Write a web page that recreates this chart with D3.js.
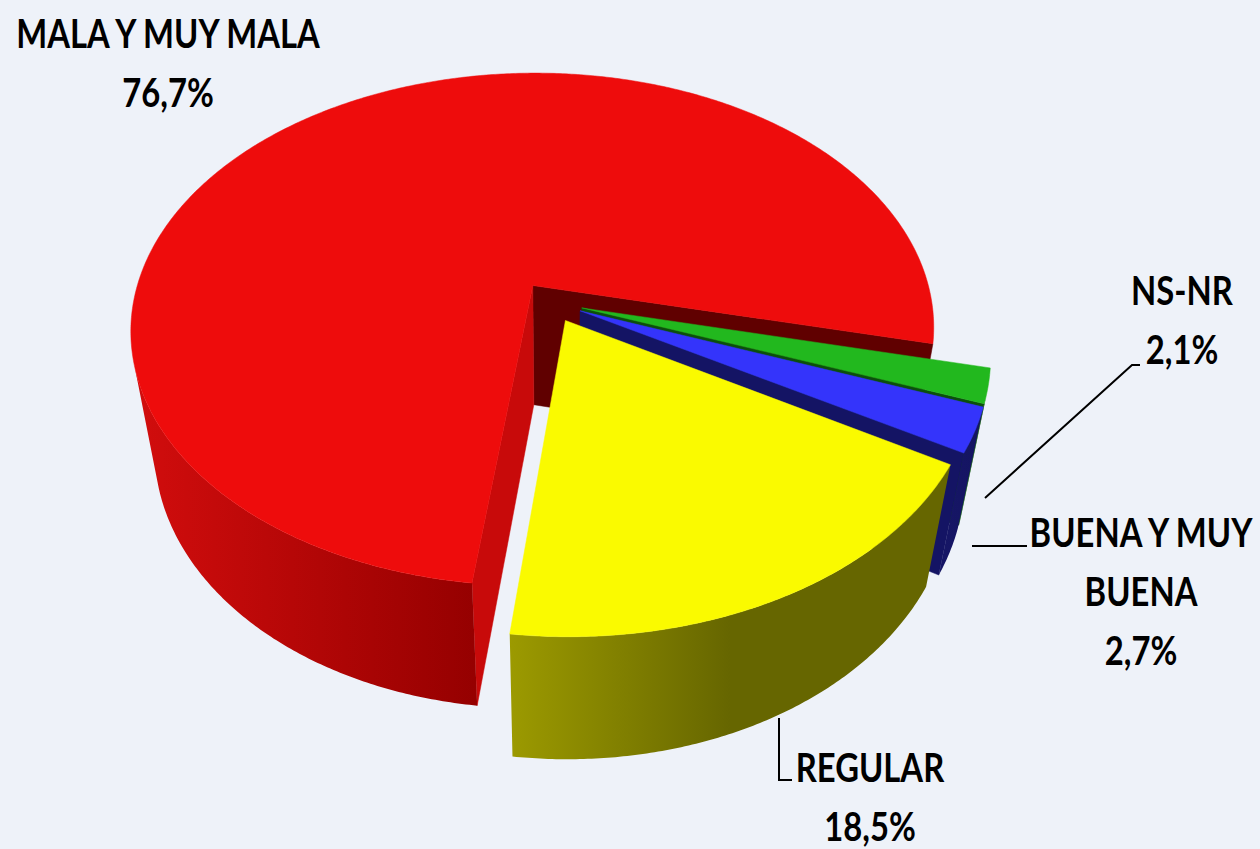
<!DOCTYPE html>
<html>
<head>
<meta charset="utf-8">
<script src="https://cdn.jsdelivr.net/npm/d3@7"></script>
<style>
  html, body { margin: 0; padding: 0; background: #eef2f9; }
  svg { display: block; }
  .lbl { font-family: Lato, "Open Sans", sans-serif; font-weight: 700; fill: #000; }
</style>
</head>
<body>
<div id="chart"></div>
<script>
// Datos (porcentajes)
const categories = ['NS-NR', 'BUENA Y MUY BUENA', 'REGULAR', 'MALA Y MUY MALA'];
const values = [2.1, 2.7, 18.5, 76.7];
// líneas de texto de cada etiqueta
const labelLines = [['NS-NR'], ['BUENA Y MUY', 'BUENA'], ['REGULAR'], ['MALA Y MUY MALA']];

const width = 1260, height = 849;

// Estilos por porción
const sliceStyle = [
  { top: '#22b81e', wall: ['#0f660f', '#0b500b'], cutStart: '#0c4f0c', cutEnd: '#0c4f0c' },
  { top: '#3434fb', wall: ['#161666', '#141462'], cutStart: '#141464', cutEnd: '#141464' },
  { top: '#fafa00', wall: ['#9c9a00', '#666600'], cutStart: '#8a8800', cutEnd: '#707000' },
  { top: '#ee0c0c', wall: ['#d20d0d', '#950000'], cutStart: '#c80a0a', cutEnd: '#600000' }
];

// Posición de las etiquetas (centro, línea base de la primera línea)
const labelPos = [
  { x: 1182, y: 305 },
  { x: 1141, y: 547 },
  { x: 870, y: 782 },
  { x: 168, y: 48 }
];
const leaderLines = [
  [[1140, 365], [1132, 365], [985, 498]],
  [[1027, 546], [972, 546]],
  [[792, 780], [779, 780], [779, 718]],
  null
];

// Vista 3D (perspectiva)
const view = { cx: 551, cy: 302, F: 1784, D: 4.46, tilt: 39.5 * Math.PI / 180, depth: 0.41, explode: 0.08 };
const sinA = Math.sin(view.tilt), cosA = Math.cos(view.tilt);
const camera = [0, view.D * sinA, view.D * cosA];

function project(x, y, z) {
  const w = view.D - (y * sinA + z * cosA);
  return [view.cx + view.F * x / w, view.cy - view.F * (y * cosA - z * sinA) / w];
}
function distance(x, y, z) {
  return view.D - (y * sinA + z * cosA);
}

const svg = d3.select('#chart').append('svg')
  .attr('width', width)
  .attr('height', height)
  .attr('viewBox', `0 0 ${width} ${height}`);

const defs = svg.append('defs');
svg.append('rect').attr('width', width).attr('height', height).attr('fill', '#eef2f9');

// d3.pie: ángulo 0 arriba, sentido horario. theta = ángulo en el plano (0 = derecha, hacia el frente)
const pie = d3.pie().sort(null).value(d => d)
  .startAngle(103 * Math.PI / 180)
  .endAngle(103 * Math.PI / 180 + 2 * Math.PI);
const arcs = pie(values);

const line = d3.line();
const faces = [];   // caras laterales (se ordenan por profundidad)
const tops = [];
const step = Math.PI / 360;

arcs.forEach((a, i) => {
  const t0 = a.startAngle - Math.PI / 2;
  const t1 = a.endAngle - Math.PI / 2;
  const mid = (t0 + t1) / 2;
  const ox = view.explode * Math.cos(mid), oz = view.explode * Math.sin(mid);
  const h = -view.depth;
  const st = sliceStyle[i];

  const rim = (t, y) => [ox + Math.cos(t), y, oz + Math.sin(t)];
  const n = Math.max(2, Math.ceil((t1 - t0) / step));
  const ts = d3.range(n + 1).map(k => t0 + (t1 - t0) * k / n);

  // cara superior
  const topPts = [project(ox, 0, oz)].concat(ts.map(t => project(...rim(t, 0))));
  tops.push({ d: line(topPts) + 'Z', fill: st.top });

  // pared exterior: tramos visibles
  const facing = t => {
    const p = rim(t, h / 2);
    return Math.cos(t) * (camera[0] - p[0]) + Math.sin(t) * (camera[2] - p[2]) > 0;
  };
  let run = [];
  const runs = [];
  ts.forEach(t => {
    if (facing(t)) run.push(t);
    else if (run.length) { runs.push(run); run = []; }
  });
  if (run.length) runs.push(run);
  runs.forEach(r => {
    if (r.length < 2) return;
    const upper = r.map(t => project(...rim(t, 0)));
    const lower = r.slice().reverse().map(t => project(...rim(t, h)));
    const pts = upper.concat(lower);
    const xs = pts.map(p => p[0]);
    const gid = `wall-${i}-${faces.length}`;
    const g = defs.append('linearGradient').attr('id', gid)
      .attr('gradientUnits', 'userSpaceOnUse')
      .attr('x1', d3.min(xs)).attr('x2', d3.max(xs)).attr('y1', 0).attr('y2', 0);
    g.append('stop').attr('offset', 0).attr('stop-color', st.wall[0]);
    g.append('stop').attr('offset', i === 2 ? 0.5 : 1).attr('stop-color', st.wall[1]);
    g.append('stop').attr('offset', 1).attr('stop-color', st.wall[1]);
    const tm = r[Math.floor(r.length / 2)];
    const pm = rim(tm, h / 2);
    faces.push({ d: line(pts) + 'Z', fill: `url(#${gid})`, z: distance(...pm) });
  });

  // caras de corte (radiales)
  [[t0, [Math.sin(t0), -Math.cos(t0)], st.cutStart], [t1, [-Math.sin(t1), Math.cos(t1)], st.cutEnd]]
    .forEach(([t, nrm, fill]) => {
      const c = [ox + 0.5 * Math.cos(t), h / 2, oz + 0.5 * Math.sin(t)];
      const vis = nrm[0] * (camera[0] - c[0]) + nrm[1] * (camera[2] - c[2]) > 0;
      if (!vis) return;
      const pts = [
        project(ox, 0, oz), project(...rim(t, 0)),
        project(...rim(t, h)), project(ox, h, oz)
      ];
      faces.push({ d: line(pts) + 'Z', fill, z: distance(...c) });
    });
});

faces.sort((a, b) => b.z - a.z);

const pieG = svg.append('g');
pieG.selectAll('path.side').data(faces).join('path')
  .attr('class', 'side')
  .attr('d', d => d.d)
  .attr('fill', d => d.fill)
  .attr('stroke', d => d.fill.startsWith('url') ? 'none' : d.fill)
  .attr('stroke-width', 0.5);
pieG.selectAll('path.top').data(tops).join('path')
  .attr('class', 'top')
  .attr('d', d => d.d)
  .attr('fill', d => d.fill)
  .attr('stroke', d => d.fill)
  .attr('stroke-width', 0.5);

// líneas guía
leaderLines.forEach(pts => {
  if (!pts) return;
  svg.append('path')
    .attr('d', line(pts))
    .attr('fill', 'none')
    .attr('stroke', '#000')
    .attr('stroke-width', 2);
});

// Etiquetas (letra estrechada, parecida a Calibri)
const fmt = v => d3.format('.1f')(v).replace('.', ',') + '%';
const lineGap = 59;
const squeeze = 0.82;
categories.forEach((c, i) => {
  const lines = labelLines[i].concat([fmt(values[i])]);
  const t = svg.append('text')
    .attr('class', 'lbl')
    .attr('text-anchor', 'middle')
    .attr('font-size', 40)
    .attr('transform', `translate(${labelPos[i].x},0) scale(${squeeze},1)`);
  lines.forEach((s, k) => {
    t.append('tspan')
      .attr('x', 0)
      .attr('y', labelPos[i].y + k * lineGap)
      .text(s);
  });
});
</script>
</body>
</html>
